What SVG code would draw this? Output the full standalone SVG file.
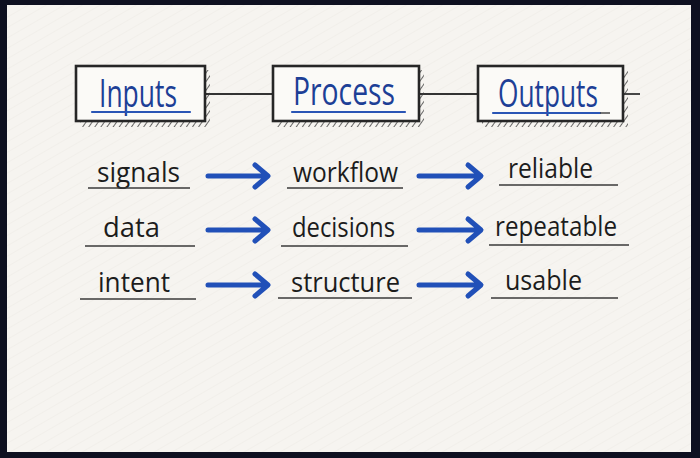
<svg xmlns="http://www.w3.org/2000/svg" width="700" height="458" viewBox="0 0 700 458">
<style>
.box{fill:#fbfaf7;stroke:#262626;stroke-width:2.6}
.shadow{fill:url(#hatch);opacity:0.75}
.head{font-family:"Open Sans","Noto Sans",sans-serif;font-size:38px;fill:#1d3f96}
.hul{stroke:#2a55b5;stroke-width:2.2;fill:none;stroke-linecap:round}
.word{font-family:"Open Sans","Noto Sans",sans-serif;font-size:27px;fill:#1c1c1c}
.ul{stroke:#3a3a3a;stroke-width:1.4;fill:none}
.link{stroke:#333;stroke-width:1.8;fill:none}
.arrow{stroke:#2150b8;stroke-width:5;fill:none;stroke-linecap:round;stroke-linejoin:round}
</style>
<defs>
<pattern id="hatch" width="5" height="5" patternUnits="userSpaceOnUse" patternTransform="rotate(35)">
<line x1="0" y1="0" x2="0" y2="5" stroke="#3a3a3a" stroke-width="2"/>
</pattern>
<pattern id="paper" width="9" height="9" patternUnits="userSpaceOnUse" patternTransform="rotate(-30)">
<line x1="0" y1="0" x2="9" y2="0" stroke="#e4e1db" stroke-width="1.2"/>
</pattern>
</defs>
<rect width="700" height="458" fill="#0e1020"/>
<rect x="7" y="5" width="684" height="447" fill="#f6f4f0"/>
<rect x="7" y="5" width="684" height="447" fill="url(#paper)" opacity="0.45"/>

<g id="connectors">
<line class="link" x1="205" y1="94" x2="273" y2="94"/>
<line class="link" x1="419" y1="94" x2="478" y2="94"/>
<line class="link" x1="623" y1="94" x2="640" y2="94"/>
<path class="arrow" d="M208 176 L265 176 M255 165 L268 176 L255 187"/>
<path class="arrow" d="M208 230 L265 230 M255 219 L268 230 L255 241"/>
<path class="arrow" d="M208 285 L265 285 M255 274 L268 285 L255 296"/>
<path class="arrow" d="M419 176 L477 176 M468 165 L481 176 L468 187"/>
<path class="arrow" d="M419 230 L477 230 M468 219 L481 230 L468 241"/>
<path class="arrow" d="M419 285 L477 285 M468 274 L481 285 L468 296"/>
</g>

<g id="inputs">
<rect class="shadow" x="80" y="70" width="130" height="57"/>
<rect class="box" x="76" y="66" width="129" height="55"/>
<text class="head" x="99" y="107" textLength="78" lengthAdjust="spacingAndGlyphs">Inputs</text>
<line class="hul" x1="92" y1="112" x2="190" y2="112"/>
</g>
<g id="process">
<rect class="shadow" x="277" y="70" width="147" height="57"/>
<rect class="box" x="273" y="66" width="146" height="55"/>
<text class="head" x="293" y="105" textLength="102" lengthAdjust="spacingAndGlyphs">Process</text>
<line class="hul" x1="292" y1="112" x2="405" y2="112"/>
</g>
<g id="outputs">
<rect class="shadow" x="482" y="70" width="146" height="57"/>
<rect class="box" x="478" y="66" width="145" height="55"/>
<text class="head" x="498" y="107" textLength="100" lengthAdjust="spacingAndGlyphs">Outputs</text>
<line class="hul" x1="493" y1="113" x2="600" y2="113"/>
<line class="ul" x1="600" y1="113" x2="610" y2="113"/>
</g>

<g id="signals"><text class="word" x="97" y="182" textLength="83" lengthAdjust="spacingAndGlyphs">signals</text><line class="ul" x1="88" y1="188" x2="190" y2="188"/></g>
<g id="data"><text class="word" x="103" y="237" textLength="57" lengthAdjust="spacingAndGlyphs">data</text><line class="ul" x1="85" y1="246" x2="195" y2="246"/></g>
<g id="intent"><text class="word" x="98" y="292" textLength="72" lengthAdjust="spacingAndGlyphs">intent</text><line class="ul" x1="80" y1="299" x2="196" y2="299"/></g>

<g id="workflow"><text class="word" x="293" y="182" textLength="105" lengthAdjust="spacingAndGlyphs">workflow</text><line class="ul" x1="287" y1="188" x2="403" y2="188"/></g>
<g id="decisions"><text class="word" x="292" y="237" textLength="103" lengthAdjust="spacingAndGlyphs">decisions</text><line class="ul" x1="281" y1="246" x2="408" y2="246"/></g>
<g id="structure"><text class="word" x="291" y="292" textLength="109" lengthAdjust="spacingAndGlyphs">structure</text><line class="ul" x1="278" y1="298" x2="412" y2="298"/></g>

<g id="reliable"><text class="word" x="508" y="178" textLength="85" lengthAdjust="spacingAndGlyphs">reliable</text><line class="ul" x1="499" y1="185" x2="618" y2="185"/></g>
<g id="repeatable"><text class="word" x="495" y="236" textLength="122" lengthAdjust="spacingAndGlyphs">repeatable</text><line class="ul" x1="489" y1="245" x2="629" y2="245"/></g>
<g id="usable"><text class="word" x="505" y="290" textLength="77" lengthAdjust="spacingAndGlyphs">usable</text><line class="ul" x1="491" y1="298" x2="618" y2="298"/></g>
</svg>
